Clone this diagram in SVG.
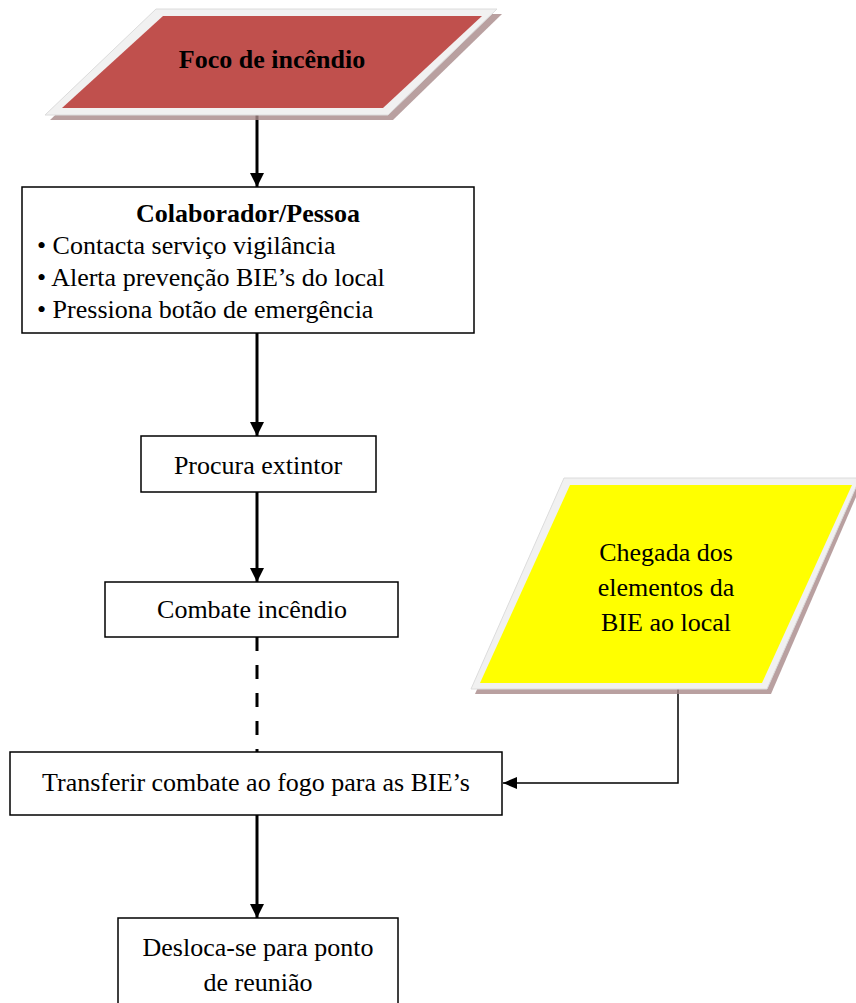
<svg xmlns="http://www.w3.org/2000/svg" width="856" height="1003" viewBox="0 0 856 1003">
<defs>
<marker id="ah" markerUnits="userSpaceOnUse" markerWidth="14" markerHeight="14" viewBox="0 0 14 14" refX="14" refY="7" orient="auto">
<path d="M0,0 L14,7 L0,14 Z" fill="#000"/>
</marker>
<marker id="ahs" markerUnits="userSpaceOnUse" markerWidth="14" markerHeight="12" viewBox="0 0 14 12" refX="14" refY="6" orient="auto">
<path d="M0,0 L14,6 L0,12 Z" fill="#000"/>
</marker>
</defs>
<style>
text{font-family:"Liberation Serif","Times New Roman",serif;font-size:26px;fill:#000}
.b{font-weight:bold}
.c{text-anchor:middle}
.box{fill:#fff;stroke:#000;stroke-width:1.5}
.band{fill:#f1f1f1;stroke:#dcdcdc;stroke-width:1}
.shadow{fill:#a88888;opacity:0.8}
.main{stroke:#000;stroke-width:3;fill:none}
</style>
<rect width="856" height="1003" fill="#fff"/>
<g id="connectors">
<line class="main" x1="257" y1="113" x2="257" y2="187" marker-end="url(#ah)"/>
<line class="main" x1="257" y1="333" x2="257" y2="436" marker-end="url(#ah)"/>
<line class="main" x1="257" y1="492" x2="257" y2="582" marker-end="url(#ah)"/>
<line class="main" x1="257" y1="637" x2="257" y2="752" stroke-dasharray="14,14"/>
<line class="main" x1="257" y1="815" x2="257" y2="918" marker-end="url(#ah)"/>
<polyline points="678,688 678,783 503,783" fill="none" stroke="#000" stroke-width="1.5" marker-end="url(#ahs)"/>
</g>
<g id="foco">
<polygon class="shadow" points="161,14 502,14 393,120 50,120"/>
<polygon class="band" points="156,9 497,9 388,115 45,115"/>
<polygon points="163,16 482,16 383,108 62,108" fill="#C0504D"/>
<text class="b c" x="272" y="68">Foco de incêndio</text>
</g>
<g id="colaborador">
<rect class="box" x="22" y="187" width="452" height="146"/>
<text class="b c" x="248" y="222">Colaborador/Pessoa</text>
<text x="37" y="254">• Contacta serviço vigilância</text>
<text x="37" y="286">• Alerta prevenção BIE’s do local</text>
<text x="37" y="318">• Pressiona botão de emergência</text>
</g>
<g id="procura">
<rect class="box" x="141" y="436" width="235" height="56"/>
<text class="c" x="258" y="474">Procura extintor</text>
</g>
<g id="combate">
<rect class="box" x="105" y="582" width="293" height="55"/>
<text class="c" x="252" y="618">Combate incêndio</text>
</g>
<g id="transferir">
<rect class="box" x="10" y="752" width="492" height="63"/>
<text class="c" x="256" y="791">Transferir combate ao fogo para as BIE’s</text>
</g>
<g id="desloca">
<rect class="box" x="118" y="918" width="280" height="95"/>
<text class="c" x="258" y="956">Desloca-se para ponto</text>
<text class="c" x="258" y="991">de reunião</text>
</g>
<g id="chegada">
<polygon class="shadow" points="569,483 862,483 771,694 475,694"/>
<polygon class="band" points="564,478 860,478 767,689 471,689"/>
<polygon points="570,485 852,485 762,683 480,683" fill="#FFFF00"/>
<text class="c" x="666" y="561">Chegada dos</text>
<text class="c" x="666" y="596">elementos da</text>
<text class="c" x="666" y="631">BIE ao local</text>
</g>
</svg>
